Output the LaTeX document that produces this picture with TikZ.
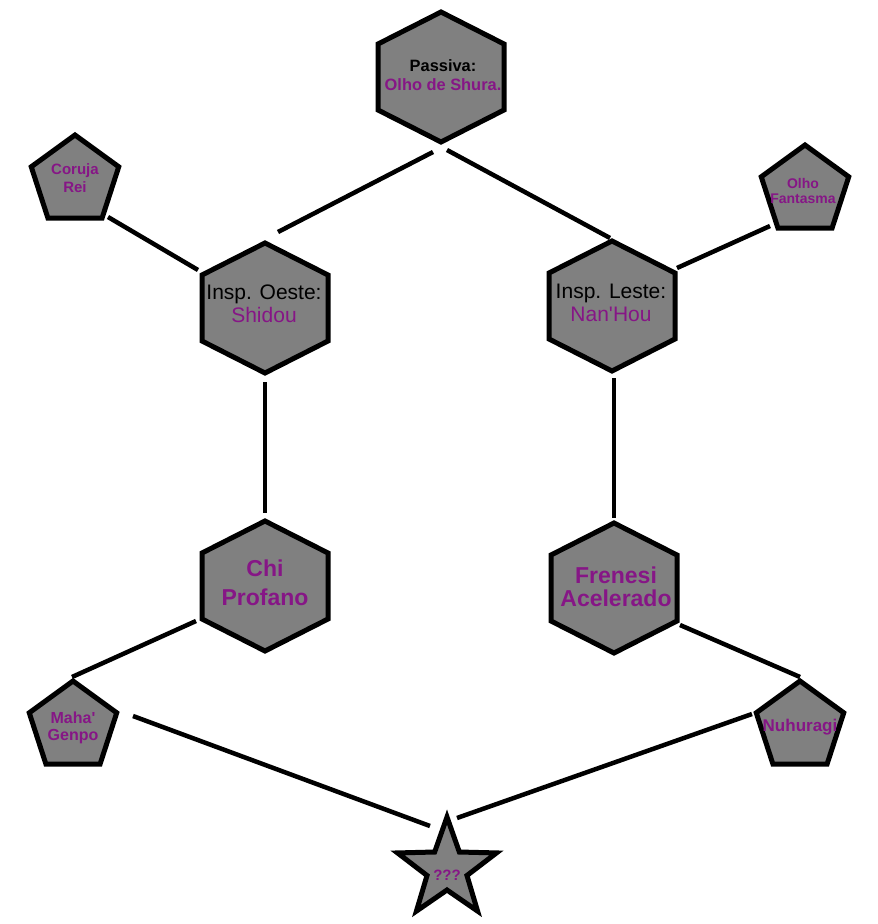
\documentclass[tikz,border=0pt]{standalone}
\usepackage{fontspec}
\setmainfont{Liberation Sans}[Ligatures=TeXOff]
\definecolor{skillpurple}{RGB}{134,22,134}
\definecolor{tilegray}{RGB}{128,128,128}

% Tile outlines, drawn around a centre given in pixel units
\newcommand\hextile[2]{\path[tile,shift={(#1,#2)}] (0,-65) -- (63,-33) -- (63,33) -- (0,65) -- (-63,33) -- (-63,-33) -- cycle;}
\newcommand\pentile[2]{\path[tile,shift={(#1,#2)},yscale=-1] (90:46) -- (162:46) -- (234:46) -- (306:46) -- (18:46) -- cycle;}
\newcommand\startile[2]{\path[tile,shift={(#1,#2)},yscale=-1] (90:52) -- (126:21) -- (162:52) -- (198:21) -- (234:52) -- (270:21) -- (306:52) -- (342:21) -- (18:52) -- (54:21) -- cycle;}

\begin{document}
\begin{tikzpicture}[x=1pt,y=-1pt,
  tile/.style={draw=black, fill=tilegray, line width=5pt, line join=miter},
  link/.style={draw=black, line width=4.5pt},
  txt/.style={inner sep=0pt, align=center, text=skillpurple},
  smalltxt/.style={txt, font=\fontsize{15}{18}\selectfont\bfseries},
  insptxt/.style={txt, font=\fontsize{21}{23}\selectfont},
  bigtxt/.style={txt, font=\fontsize{23}{29}\selectfont\bfseries},
]
\useasboundingbox[fill=white] (0,0) rectangle (878,924);

% shapes
\hextile{441}{77}
\hextile{265}{308}
\hextile{612}{306}
\hextile{265}{586}
\hextile{614}{588}
\pentile{75}{181}
\pentile{805}{191}
\pentile{73}{727}
\pentile{800}{727}
\startile{447}{869}

% labels
\node[txt, font=\fontsize{16.4}{18.5}\selectfont\bfseries] (passive) at (443,75) {\textcolor{black}{Passiva:}\\Olho de Shura.};
\node[insptxt] (west) at (264,304) {\textcolor{black}{Insp. Oeste:}\\Shidou};
\node[insptxt] (east) at (611,303) {\textcolor{black}{Insp. Leste:}\\Nan'Hou};
\node[bigtxt] (chi) at (265,583) {Chi\\Profano};
\node[bigtxt, font=\fontsize{23}{23}\selectfont\bfseries] (frenesi) at (616,587) {Frenesi\\Acelerado};
\node[smalltxt] (owl) at (75,178) {Coruja\\Rei};
\node[smalltxt, font=\fontsize{14}{15}\selectfont\bfseries] (phantom) at (803,191) {Olho\\Fantasma};
\node[smalltxt, font=\fontsize{16}{17}\selectfont\bfseries] (maha) at (73,728) {Maha'\\Genpo};
\node[smalltxt, font=\fontsize{17}{18}\selectfont\bfseries] (nuhuragi) at (800,727) {Nuhuragi};
\node[smalltxt, font=\fontsize{15}{18}\selectfont\bfseries] (mystery) at (447,875) {???};

% connectors
\draw[link] ([shift={(-10,77)}]passive.center) -- ([shift={(14,-72)}]west.center);
\draw[link] ([shift={(4,75)}]passive.center) -- ([shift={(-1,-65)}]east.center);
\draw[link] ([shift={(33,39)}]owl.center) -- ([shift={(-66,-34)}]west.center);
\draw[link] ([shift={(-33,35)}]phantom.center) -- ([shift={(66,-35)}]east.center);
\draw[link] ([shift={(1,78)}]west.center) -- ([shift={(0,-70)}]chi.center);
\draw[link] ([shift={(3,75)}]east.center) -- ([shift={(-2,-69)}]frenesi.center);
\draw[link] ([shift={(-69,38)}]chi.center) -- ([shift={(-1,-51)}]maha.center);
\draw[link] ([shift={(64,38)}]frenesi.center) -- ([shift={(0,-50)}]nuhuragi.center);
\draw[link] ([shift={(60,-12)}]maha.center) -- ([shift={(-17,-49)}]mystery.center);
\draw[link] ([shift={(-48,-13)}]nuhuragi.center) -- ([shift={(10,-57)}]mystery.center);
\end{tikzpicture}
\end{document}
